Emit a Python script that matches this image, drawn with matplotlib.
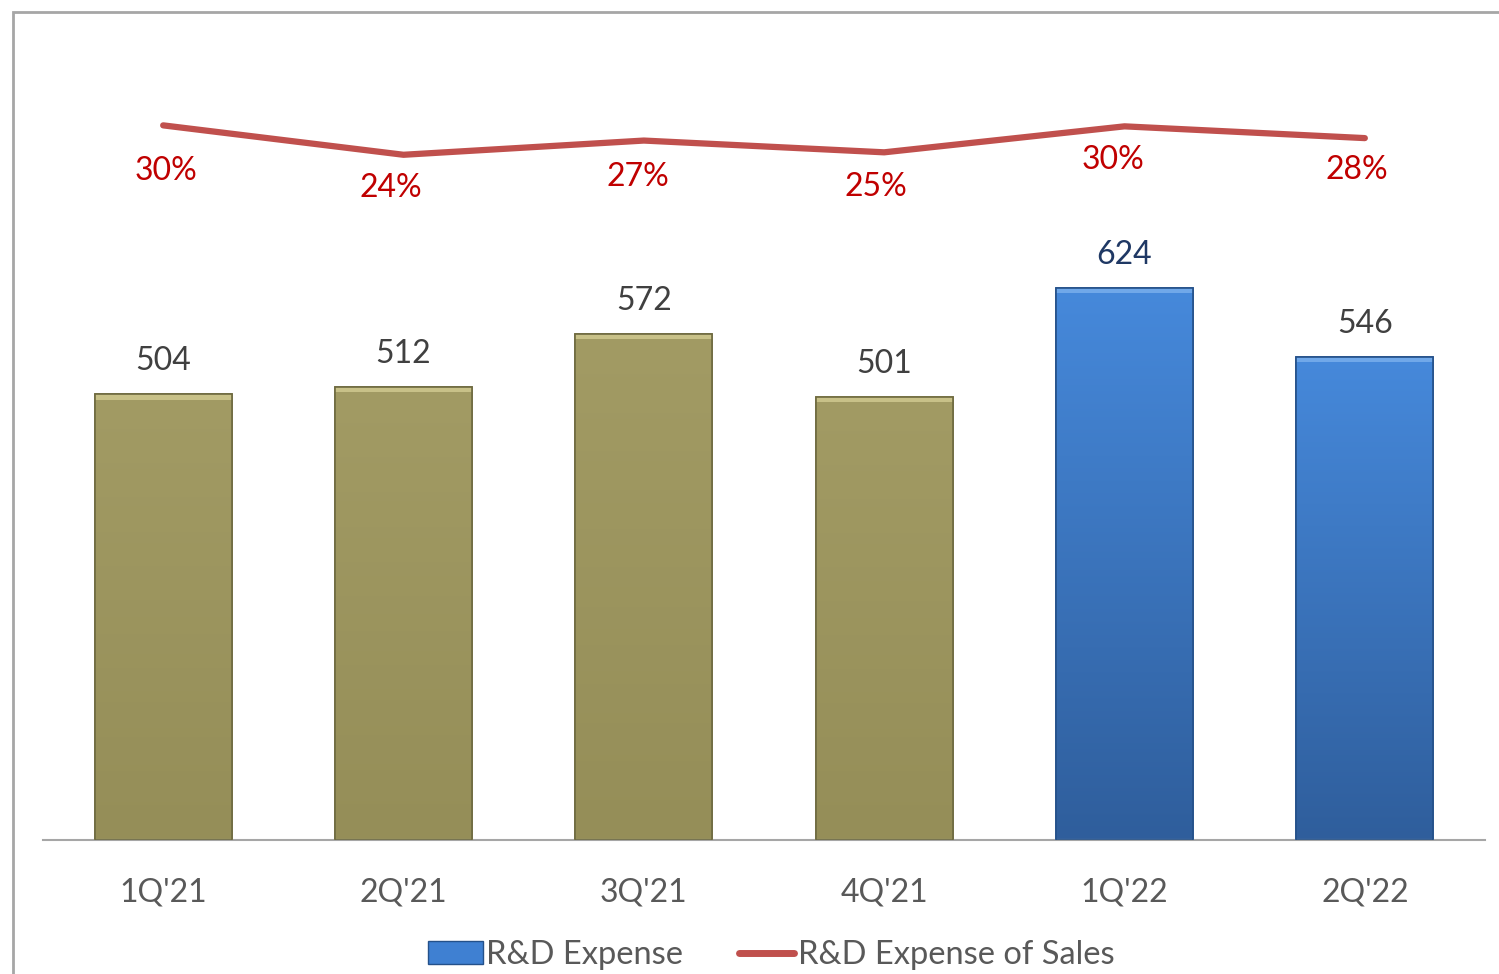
import matplotlib
matplotlib.use("Agg")
import numpy as np
from matplotlib import pyplot as plt
from matplotlib.colors import LinearSegmentedColormap
from matplotlib.patches import Rectangle, Patch
from matplotlib.lines import Line2D

# Quarterly R&D expense and its share of sales
quarters = ["1Q'21", "2Q'21", "3Q'21", "4Q'21", "1Q'22", "2Q'22"]
rd_expense = [504, 512, 572, 501, 624, 546]
rd_pct_sales = [30.1, 24.1, 27.0, 24.6, 29.9, 27.5]
pct_labels = ["30%", "24%", "27%", "25%", "30%", "28%"]

olive = "#9C9560"
blue = "#3F80D2"
red_line = "#C0504D"
red_text = "#C00000"

plt.rcParams["font.family"] = ["Lato", "DejaVu Sans"]

fig = plt.figure(figsize=(14.99, 9.74), dpi=100)
W, H = 1499, 974

# chart frame (grey border on the left and top)
fig.patches.append(Rectangle((13 / W, -0.01), 1.1, (974 - 12) / H + 0.01,
                             transform=fig.transFigure, fill=False,
                             edgecolor="#A6A6A6", linewidth=2))

ax = fig.add_axes([43 / W, (H - 840) / H, (1485 - 43) / W, (840 - 44) / H])
x = list(range(len(quarters)))
colors = [olive] * 4 + [blue] * 2
edges = ["#6E6A40"] * 4 + ["#24518A"] * 2
bars = ax.bar(x, rd_expense, width=0.57, color=colors, edgecolor=edges, linewidth=1.2, zorder=2)

# vertical gradient + thin bevel on each bar (Excel-style look)
grad = {olive: LinearSegmentedColormap.from_list("o", ["#958E58", "#A29B64"]),
        blue: LinearSegmentedColormap.from_list("b", ["#2F5E9C", "#4689DB"])}
ramp = np.linspace(0, 1, 256).reshape(-1, 1)
for b, c, e in zip(bars, colors, edges):
    x0, w, h = b.get_x(), b.get_width(), b.get_height()
    ax.imshow(ramp, cmap=grad[c], origin="lower", aspect="auto",
              extent=(x0, x0 + w, 0, h), zorder=2.5)
    hl = "#CFC98F" if c == olive else "#78AEEC"
    ax.add_patch(Rectangle((x0, h - 6), w, 6, color=hl, alpha=0.85, zorder=3, linewidth=0))
    ax.add_patch(Rectangle((x0, 0), w, h, fill=False, edgecolor=e, linewidth=1.2, zorder=3.5))

ax.set_xlim(-0.5, 5.5)
ax.set_ylim(0, 900)
for s in ["top", "right", "left"]:
    ax.spines[s].set_visible(False)
ax.spines["bottom"].set_color("#A6A6A6")
ax.spines["bottom"].set_linewidth(1.5)
ax.set_yticks([])
ax.set_xticks(x)
ax.set_xticklabels(quarters, fontsize=23, color="#595959")
ax.tick_params(axis="x", length=0, pad=27)

for i, v in enumerate(rd_expense):
    col = "#1F3864" if i == 4 else "#404040"
    ax.annotate(str(v), (i, v), xytext=(0, 24), textcoords="offset points",
                ha="center", va="center", fontsize=23, color=col)

ax2 = ax.twinx()
ax2.set_ylim(-115.7, 46.7)
ax2.plot(x, rd_pct_sales, color=red_line, linewidth=4.5, solid_capstyle="round", zorder=4)
ax2.axis("off")
offsets = [33, 24, 26, 25, 24, 23]
shifts = [2, -9, -4, -6, -8, -6]
for i, (v, lab) in enumerate(zip(rd_pct_sales, pct_labels)):
    ax2.annotate(lab, (i, v), xytext=(shifts[i], -offsets[i]), textcoords="offset points",
                 ha="center", va="center", fontsize=23, color=red_text)

handles = [Patch(facecolor=blue, edgecolor="#24518A"),
           Line2D([0], [0], color=red_line, linewidth=5, solid_capstyle="round")]
fig.legend(handles, ["R&D Expense", "R&D Expense of Sales"], loc="center",
           bbox_to_anchor=(771 / W, (H - 955) / H), ncol=2, frameon=False,
           fontsize=23.5, labelcolor="#595959", handlelength=1.7, handletextpad=0.1,
           columnspacing=1.7)

fig.savefig("out.png", dpi=100)
